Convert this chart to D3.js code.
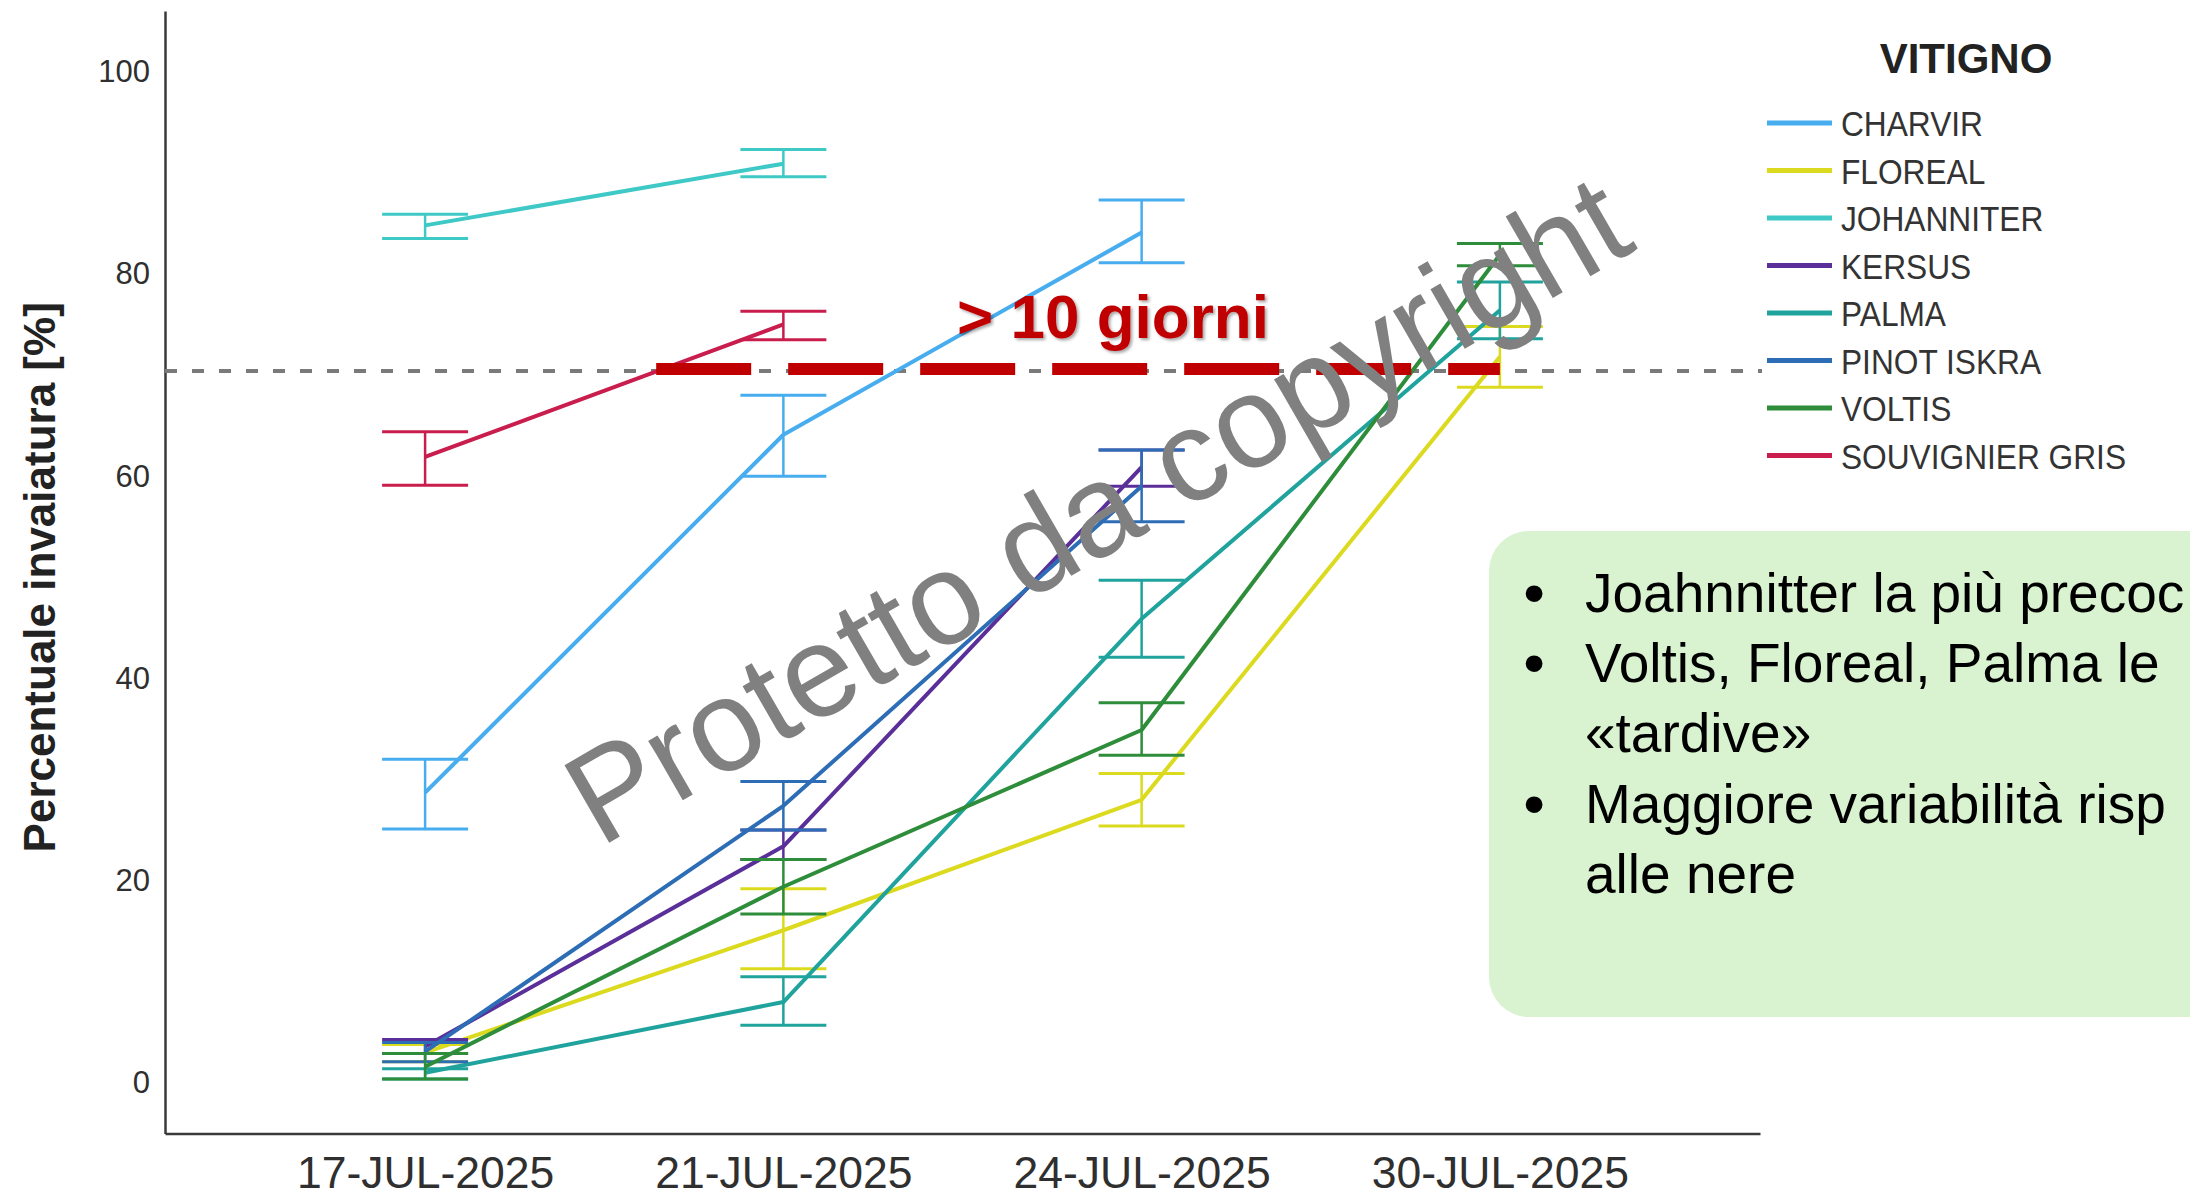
<!DOCTYPE html>
<html>
<head>
<meta charset="utf-8">
<script src="https://cdn.jsdelivr.net/npm/d3@7"></script>
<style>
    html, body { margin: 0; padding: 0; background: #ffffff; overflow: hidden; }
    svg { display: block; font-family: "Liberation Sans", Arial, sans-serif; }
</style>
</head>
<body>
<svg id="chart" width="2190" height="1198"></svg>
<script>
// Dates of the surveys (x categories)
const dates = ['17-JUL-2025', '21-JUL-2025', '24-JUL-2025', '30-JUL-2025'];

// Grape varieties, in legend order
const varieties = ['CHARVIR', 'FLOREAL', 'JOHANNITER', 'KERSUS', 'PALMA', 'PINOT ISKRA', 'VOLTIS', 'SOUVIGNIER GRIS'];
const colors = ['#47adef', '#dcda1e', '#3fc9c6', '#5a2f99', '#1fa39c', '#2d6db5', '#2e8d3a', '#c81d4d'];

// Mean veraison % per variety (rows) and date (columns), null = not surveyed
const means = [
    [28.7, 64.1, 84.1, null],
    [3.0, 15.1, 28.0, 71.8],
    [84.8, 90.9, null, null],
    [3.6, 23.4, 60.9, null],
    [1.0, 8.0, 45.9, 76.4],
    [3.1, 27.4, 59.0, null],
    [1.6, 19.4, 34.9, 81.9],
    [61.9, 75.0, null, null]
];

// Error bar ends
const lows = [
    [25.1, 60.0, 81.1, null],
    [2.1, 11.3, 25.4, 68.8],
    [83.5, 89.6, null, null],
    [2.9, 22.1, 59.0, null],
    [0.4, 5.7, 42.1, 73.6],
    [2.1, 25.0, 55.5, null],
    [0.4, 16.7, 32.4, 80.8],
    [59.1, 73.5, null, null]
];
const highs = [
    [32.0, 68.0, 87.3, null],
    [3.8, 19.2, 30.6, 74.8],
    [85.9, 92.3, null, null],
    [4.3, 25.0, 62.6, null],
    [1.4, 10.5, 49.7, 79.2],
    [4.0, 29.8, 62.6, null],
    [2.9, 22.1, 37.6, 83.0],
    [64.4, 76.3, null, null]
];

const yTicks = [0, 20, 40, 60, 80, 100];
const refValue = 70.4;       // grey dashed threshold
const annotValue = 70.6;     // red dashed annotation
const annotText = '> 10 giorni';

// Text box (only the part that shows on the slide)
const notes = [
    { bullet: true, text: 'Joahnnitter la più precoc' },
    { bullet: true, text: 'Voltis, Floreal, Palma le' },
    { bullet: false, text: '«tardive»' },
    { bullet: true, text: 'Maggiore variabilità risp' },
    { bullet: false, text: 'alle nere' }
];

const svg = d3.select('#chart');

const x = d3.scalePoint()
    .domain(dates)
    .range([165, 1760])
    .padding(0.726);

const y = d3.scaleLinear()
    .domain([-5, 106])
    .range([1133.5, 11]);

const capW = x.step() * 0.24;

// Y axis
const yAxis = svg.append('g')
    .attr('transform', 'translate(165,0)')
    .call(d3.axisLeft(y).tickValues(yTicks).tickSize(0).tickSizeOuter(0).tickPadding(15));
yAxis.select('.domain').attr('stroke', '#3a3a3a').attr('stroke-width', 2.5);
yAxis.selectAll('text')
    .attr('font-size', 31)
    .attr('font-family', '"Liberation Sans", Arial, sans-serif')
    .attr('fill', '#2f2f2f');

// X axis
const xAxis = svg.append('g')
    .attr('transform', `translate(0,${y(-5)})`)
    .call(d3.axisBottom(x).tickSize(0).tickSizeOuter(0).tickPadding(23));
xAxis.select('.domain').attr('stroke', '#3a3a3a').attr('stroke-width', 2.5);
xAxis.selectAll('text')
    .attr('font-size', 44.5)
    .attr('font-family', '"Liberation Sans", Arial, sans-serif')
    .attr('fill', '#2f2f2f');

// Y axis title
svg.append('text')
    .attr('transform', `translate(55,${y(50)}) rotate(-90)`)
    .attr('text-anchor', 'middle')
    .attr('font-size', 44)
    .attr('font-weight', 'bold')
    .attr('fill', '#222')
    .text('Percentuale invaiatura [%]');

// Grey dashed threshold line
svg.append('line')
    .attr('x1', 165)
    .attr('x2', 1762)
    .attr('y1', y(refValue))
    .attr('y2', y(refValue))
    .attr('stroke', '#7a7a7a')
    .attr('stroke-width', 4)
    .attr('stroke-dasharray', '12 15');

// Series: error bars + lines
const line = d3.line()
    .x(d => x(d.date))
    .y(d => y(d.mean));

varieties.forEach((name, i) => {
    const pts = dates
        .map((d, j) => ({ date: d, mean: means[i][j], lo: lows[i][j], hi: highs[i][j] }))
        .filter(p => p.mean != null);

    const g = svg.append('g')
        .attr('stroke', colors[i])
        .attr('fill', 'none');

    g.selectAll('line.bar')
        .data(pts)
        .join('line')
        .attr('class', 'bar')
        .attr('x1', d => x(d.date))
        .attr('x2', d => x(d.date))
        .attr('y1', d => y(d.lo))
        .attr('y2', d => y(d.hi))
        .attr('stroke-width', 2.5);

    ['lo', 'hi'].forEach(k => {
        g.selectAll('line.cap-' + k)
            .data(pts)
            .join('line')
            .attr('class', 'cap-' + k)
            .attr('x1', d => x(d.date) - capW / 2)
            .attr('x2', d => x(d.date) + capW / 2)
            .attr('y1', d => y(d[k]))
            .attr('y2', d => y(d[k]))
            .attr('stroke-width', 3);
    });

    g.append('path')
        .datum(pts)
        .attr('d', line)
        .attr('stroke-width', 4)
        .attr('stroke-linejoin', 'round');
});

// Legend
const legend = svg.append('g');
legend.append('text')
    .attr('x', 1966)
    .attr('y', 73)
    .attr('text-anchor', 'middle')
    .attr('font-size', 42)
    .attr('font-weight', 'bold')
    .attr('fill', '#222')
    .text('VITIGNO');

const rows = legend.selectAll('g.row')
    .data(varieties)
    .join('g')
    .attr('class', 'row')
    .attr('transform', (d, i) => `translate(0,${123 + i * 47.5})`);
rows.append('line')
    .attr('x1', 1767)
    .attr('x2', 1832)
    .attr('stroke', (d, i) => colors[i])
    .attr('stroke-width', 5);
rows.append('text')
    .attr('transform', 'translate(1841,13) scale(0.88,1)')   // labels are a bit condensed
    .attr('font-size', 36)
    .attr('fill', '#333')
    .text(d => d);

// Red annotation
const defs = svg.append('defs');
const shadow = defs.append('filter').attr('id', 'shadow').attr('x', '-10%').attr('y', '-20%').attr('width', '130%').attr('height', '150%');
shadow.append('feDropShadow')
    .attr('dx', 2).attr('dy', 2).attr('stdDeviation', 1.5)
    .attr('flood-color', '#000').attr('flood-opacity', 0.35);

svg.append('line')
    .attr('x1', x(dates[0]) + 0.645 * x.step())
    .attr('x2', x(dates[3]))
    .attr('y1', y(annotValue))
    .attr('y2', y(annotValue))
    .attr('stroke', '#c00000')
    .attr('stroke-width', 12)
    .attr('stroke-dasharray', '95 37');

svg.append('text')
    .attr('x', 1113)
    .attr('y', 338)
    .attr('text-anchor', 'middle')
    .attr('font-size', 62)
    .attr('font-weight', 'bold')
    .attr('fill', '#c00000')
    .attr('filter', 'url(#shadow)')
    .text(annotText);

// Notes box
svg.append('rect')
    .attr('x', 1489)
    .attr('y', 531)
    .attr('width', 800)
    .attr('height', 486)
    .attr('rx', 40)
    .attr('fill', '#d9f2d0');

const noteG = svg.append('g');
notes.forEach((n, i) => {
    const by = 612 + i * 70.2;
    if (n.bullet) {
        noteG.append('text')
            .attr('x', 1534)
            .attr('y', by + 2)
            .attr('text-anchor', 'middle')
            .attr('font-size', 62)
            .attr('fill', '#000')
            .text('•');
    }
    noteG.append('text')
        .attr('x', 1585)
        .attr('y', by)
        .attr('font-size', 55)
        .attr('fill', '#000')
        .text(n.text);
});

// Watermark
svg.append('text')
    .attr('transform', 'translate(600,848) rotate(-30)')
    .attr('font-size', 130)
    .attr('fill', '#808080')
    .text('Protetto da copyright');
</script>
</body>
</html>
